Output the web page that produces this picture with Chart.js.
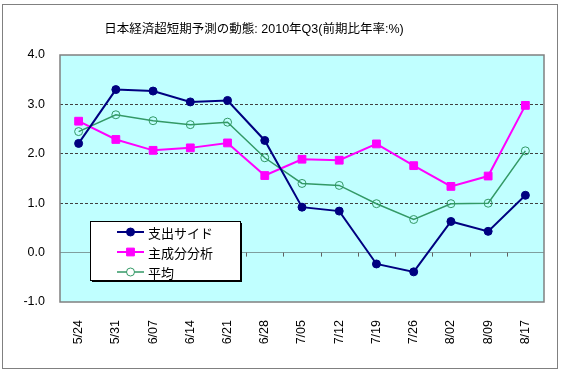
<!DOCTYPE html>
<html>
<head>
<meta charset="utf-8">
<script src="https://cdn.jsdelivr.net/npm/chart.js@4/dist/chart.umd.min.js"></script>
<style>
  html, body { margin: 0; padding: 0; background: #ffffff; }
  #wrap { position: relative; width: 564px; height: 373px; }
</style>
</head>
<body>
<div id="wrap"><canvas id="c" width="564" height="373"></canvas></div>
<script>
// ---- data ----
const chartTitle = "日本経済超短期予測の動態: 2010年Q3(前期比年率:%)";
const categories = ["5/24","5/31","6/07","6/14","6/21","6/28","7/05","7/12","7/19","7/26","8/02","8/09","8/17"];
const seriesNames = ["支出サイド", "主成分分析", "平均"];
const expenditure = [2.21, 3.30, 3.27, 3.05, 3.08, 2.27, 0.92, 0.84, -0.23, -0.39, 0.63, 0.43, 1.16];
const principal   = [2.66, 2.29, 2.07, 2.12, 2.22, 1.56, 1.89, 1.87, 2.20, 1.76, 1.34, 1.55, 2.98];
const average     = [2.45, 2.79, 2.67, 2.59, 2.64, 1.92, 1.40, 1.36, 0.99, 0.67, 0.99, 1.00, 2.06];
const yMin = -1, yMax = 4, yStep = 1;

const FONT_LATIN = "'Liberation Sans', Arial, 'Noto Sans CJK JP', sans-serif";

const decorPlugin = {
  id: 'decor',
  beforeDraw(chart) {
    const { ctx, chartArea: a } = chart;
    ctx.save();
    ctx.fillStyle = '#C0FFFF';
    ctx.fillRect(a.left, a.top, a.right - a.left, a.bottom - a.top);
    ctx.restore();
  },
  afterDatasetsDraw(chart) {
    const { ctx, chartArea: a, scales } = chart;
    const xs = scales.x, ys = scales.y;
    ctx.save();
    // tick marks on the zero axis at category boundaries
    const y0 = ys.getPixelForValue(0);
    ctx.strokeStyle = '#606060';
    ctx.lineWidth = 1;
    for (let i = 0; i < categories.length - 1; i++) {
      const xb = Math.round((xs.getPixelForValue(i) + xs.getPixelForValue(i + 1)) / 2) + 0.5;
      ctx.beginPath();
      ctx.moveTo(xb, y0);
      ctx.lineTo(xb, y0 + 4);
      ctx.stroke();
    }
    // plot border
    ctx.strokeStyle = '#808080';
    ctx.lineWidth = 1.5;
    ctx.strokeRect(a.left, a.top, a.right - a.left, a.bottom - a.top);

    // legend
    const ds = chart.data.datasets;
    const bx = a.left + 30, by = a.top + 166, bw = 150, bh = 59;
    ctx.fillStyle = '#000000';
    ctx.fillRect(bx + 2, by + 2, bw, bh);
    ctx.fillStyle = '#ffffff';
    ctx.fillRect(bx, by, bw, bh);
    ctx.strokeStyle = '#000000';
    ctx.lineWidth = 1;
    ctx.strokeRect(bx + 0.5, by + 0.5, bw, bh);
    ctx.font = "13px 'Noto Sans CJK JP', sans-serif";
    ctx.textBaseline = 'middle';
    ds.forEach((d, i) => {
      const ry = by + 11 + i * 20;
      const lx1 = bx + 27, lx2 = bx + 54, mx = (lx1 + lx2) / 2;
      ctx.strokeStyle = d.borderColor;
      ctx.lineWidth = d.borderWidth;
      ctx.beginPath();
      ctx.moveTo(lx1, ry);
      ctx.lineTo(lx2, ry);
      ctx.stroke();
      ctx.strokeStyle = d.pointBorderColor;
      ctx.lineWidth = d.pointBorderWidth || 1;
      ctx.beginPath();
      if (d.pointStyle === 'rect') {
        const s = d.pointRadius * Math.SQRT1_2;
        ctx.rect(mx - s, ry - s, 2 * s, 2 * s);
      } else {
        ctx.arc(mx, ry, d.pointRadius, 0, Math.PI * 2);
      }
      if (d.pointBackgroundColor !== 'rgba(0,0,0,0)') {
        ctx.fillStyle = d.pointBackgroundColor;
        ctx.fill();
      } else {
        ctx.fillStyle = '#ffffff';
        ctx.fill();
      }
      ctx.stroke();
      ctx.fillStyle = '#000000';
      ctx.fillText(d.label, bx + 58, ry + 1);
    });
    ctx.restore();
  },
  afterDraw(chart) {
    const { ctx, width, height } = chart;
    ctx.save();
    // outer chart border
    ctx.strokeStyle = '#808080';
    ctx.lineWidth = 1;
    ctx.strokeRect(2.5, 4.5, width - 9, height - 9);
    // title
    ctx.fillStyle = '#000000';
    ctx.font = "12.5px " + FONT_LATIN;
    ctx.textAlign = 'center';
    ctx.textBaseline = 'middle';
    ctx.fillText(chartTitle, 254, 30);
    ctx.restore();
  }
};

new Chart(document.getElementById('c'), {
  type: 'line',
  data: {
    labels: categories,
    datasets: [
      { label: seriesNames[0], data: expenditure, borderColor: '#000080', backgroundColor: '#000080',
        pointBackgroundColor: '#000080', pointBorderColor: '#000080', pointStyle: 'circle',
        pointRadius: 4, pointBorderWidth: 1, borderWidth: 2, tension: 0 },
      { label: seriesNames[1], data: principal, borderColor: '#FF00FF', backgroundColor: '#FF00FF',
        pointBackgroundColor: '#FF00FF', pointBorderColor: '#FF00FF', pointStyle: 'rect',
        pointRadius: 5.5, pointBorderWidth: 1, borderWidth: 2, tension: 0 },
      { label: seriesNames[2], data: average, borderColor: '#339966', backgroundColor: 'rgba(0,0,0,0)',
        pointBackgroundColor: 'rgba(0,0,0,0)', pointBorderColor: '#339966', pointStyle: 'circle',
        pointRadius: 4, pointBorderWidth: 1, borderWidth: 1.5, tension: 0 }
    ]
  },
  options: {
    responsive: false,
    animation: false,
    devicePixelRatio: 1,
    layout: { padding: { top: 55, left: 0, right: 20, bottom: 0 } },
    plugins: {
      legend: { display: false },
      title: { display: false },
      tooltip: { enabled: false }
    },
    scales: {
      x: {
        offset: true,
        grid: { display: false },
        border: { display: false },
        ticks: {
          maxRotation: 90, minRotation: 90, padding: 10, autoSkip: false,
          color: '#000000', font: { family: FONT_LATIN, size: 12.5 }
        },
        afterFit(scale) { scale.height = 71; }
      },
      y: {
        min: yMin, max: yMax,
        border: {
          display: false,
          dash: (ctx) => (ctx.tick && ctx.tick.value !== 0) ? [3, 2] : []
        },
        grid: {
          drawTicks: false,
          lineWidth: 1,
          color: (ctx) => {
            if (!ctx.tick) return 'rgba(0,0,0,0)';
            const v = ctx.tick.value;
            if (v === yMin || v === yMax) return 'rgba(0,0,0,0)';
            if (v === 0) return '#7F9F9F';
            return '#404040';
          }
        },
        ticks: {
          stepSize: yStep, padding: 15, color: '#000000',
          font: { family: FONT_LATIN, size: 12.5 },
          callback: (v) => Number(v).toFixed(1)
        },
        afterFit(scale) { scale.width = 60; }
      }
    }
  },
  plugins: [decorPlugin]
});
</script>
</body>
</html>
